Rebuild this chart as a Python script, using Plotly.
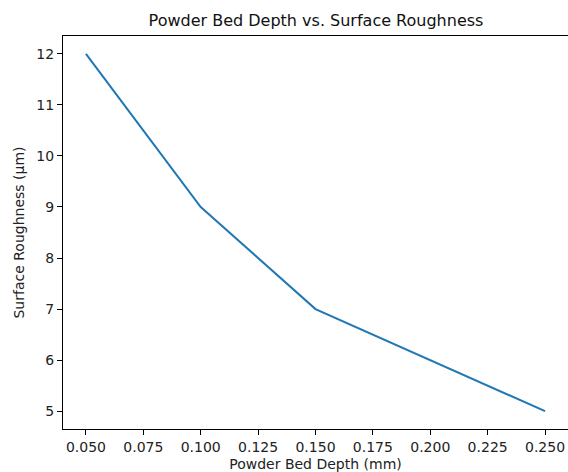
import plotly.graph_objects as go

depth_mm = [0.05, 0.10, 0.15, 0.20, 0.25]
roughness_um = [12, 9, 7, 6, 5]
x_ticks = [0.05, 0.075, 0.1, 0.125, 0.15, 0.175, 0.2, 0.225, 0.25]
x_tick_labels = ["0.050", "0.075", "0.100", "0.125", "0.150", "0.175", "0.200", "0.225", "0.250"]
y_ticks = [5, 6, 7, 8, 9, 10, 11, 12]

font = "DejaVu Sans"
W, H = 568, 472
fig = go.Figure(go.Scatter(x=depth_mm, y=roughness_um, mode="lines",
                           line=dict(color="#1f77b4", width=2)))
fig.update_layout(
    width=W, height=H,
    margin=dict(l=63, r=0, t=36, b=43),
    paper_bgcolor="white", plot_bgcolor="white",
    font=dict(family=font, size=14, color="#222"),
    showlegend=False,
    title=dict(text="Powder Bed Depth vs. Surface Roughness", x=(63 + 569) / 2 / W, xanchor="center",
               y=1 - 20 / H, yanchor="middle", font=dict(size=16, family=font, color="#111")),
)
fig.update_xaxes(range=[0.04, 0.26], tickvals=x_ticks, ticktext=x_tick_labels, automargin=False,
                 showgrid=False, zeroline=False, showline=True, linecolor="black", linewidth=1,
                 mirror=True, ticks="outside", ticklen=5, tickcolor="black",
                 title=dict(text="Powder Bed Depth (mm)", standoff=6, font=dict(size=14)))
fig.update_yaxes(range=[4.65, 12.35], tickvals=y_ticks, automargin=False,
                 showgrid=False, zeroline=False, showline=True, linecolor="black", linewidth=1,
                 mirror=False, ticks="outside", ticklen=5, tickcolor="black",
                 title=dict(text="Surface Roughness (µm)", standoff=8, font=dict(size=14)))
fig.write_html("out.html", config={"displayModeBar": False},
               post_script="document.body.style.margin='0';document.documentElement.style.overflow='hidden';")
